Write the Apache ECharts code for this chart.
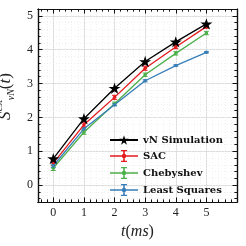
<!DOCTYPE html>
<html><head><meta charset="utf-8">
<script src="https://cdn.jsdelivr.net/npm/echarts@6/dist/echarts.min.js"></script>
<style>html,body{margin:0;padding:0;background:#fff}#c{width:246px;height:246px}</style>
</head><body><div id="c"></div>
<script>
const times = [0, 1, 2, 3, 4, 5];
const vnSim = [0.78, 1.96, 2.86, 3.65, 4.23, 4.76];
const sac = [0.65, 1.78, 2.59, 3.45, 4.08, 4.68];
const sacErr = [0.07, 0.06, 0.06, 0.06, 0.05, 0.05];
const cheb = [0.50, 1.56, 2.40, 3.26, 3.89, 4.49];
const chebErr = [0.07, 0.06, 0.05, 0.05, 0.05, 0.05];
const lsq = [0.57, 1.66, 2.37, 3.08, 3.53, 3.92];
const lsqErr = [0.05, 0.03, 0.03, 0.03, 0.02, 0.02];
const xTicks = [0, 1, 2, 3, 4, 5];
const yTicks = [0, 1, 2, 3, 4, 5];

const C_SAC = '#e41a1c', C_CHEB = '#4daf4a', C_LSQ = '#377eb8';
const STAR = 'path://M50,0L61.23,34.55L97.55,34.55L68.17,55.9L79.39,90.45L50,69.1L20.61,90.45L31.83,55.9L2.45,34.55L38.77,34.55Z';
const ERRICON = 'path://M0,52L280,52L280,68L0,68Z M132,0L148,0L148,120L132,120Z M110,0L170,0L170,12L110,12Z M110,108L170,108L170,120L110,120Z M118,60A22,22 0 1,1 162,60A22,22 0 1,1 118,60Z';

const serif = 'Liberation Serif';
const fmt = v => (xTicks.indexOf(Math.round(v*1000)/1000) >= 0 ? String(Math.round(v)) : '');
const fmtY = v => (yTicks.indexOf(Math.round(v*1000)/1000) >= 0 ? String(Math.round(v)) : '');

// zeroIdx: index of a hidden helper axis (other dimension) whose zero lies on the wanted grid edge
function majorAxis(pos, showLabel, isX, zeroIdx) {
  return {
    type: 'value', position: pos, min: -0.5, max: isX ? 6 : 5.2,
    minInterval: 1, maxInterval: 1,
    axisLine: {show: true, onZero: true, onZeroAxisIndex: zeroIdx, lineStyle: {color: '#111', width: 1.2}},
    axisTick: {show: true, inside: true, length: 4.5, lineStyle: {color: '#111', width: 1}},
    axisLabel: {show: true, formatter: isX ? fmt : fmtY, fontFamily: serif, fontSize: 12,
                color: showLabel ? '#222' : 'rgba(0,0,0,0)', margin: 5},
    splitLine: {show: showLabel, lineStyle: {color: '#dcdcdc', width: 1}},
    minorTick: {show: false}
  };
}
function minorAxis(pos, showSplit, isX, zeroIdx) {
  return {
    type: 'value', position: pos, min: -0.5, max: isX ? 6 : 5.2,
    minInterval: 0.2, maxInterval: 0.2,
    axisLine: {show: true, onZero: true, onZeroAxisIndex: zeroIdx, lineStyle: {color: '#111', width: 1.2}},
    axisTick: {show: true, inside: true, length: 2.6, lineStyle: {color: '#111', width: 1}},
    axisLabel: {show: true, formatter: () => '.', fontSize: 4, color: 'rgba(0,0,0,0)', margin: 2},
    splitLine: {show: showSplit, lineStyle: {color: '#ececec', width: 0.8, type: [1, 2]}}
  };
}
function helperAxis(lo, hi) {
  return {type: 'value', show: false, min: lo, max: hi, axisLine: {onZero: false}, splitLine: {show: false}};
}

function errSeries(name, vals, errs, color) {
  return {
    type: 'custom', name: name, xAxisIndex: 0, yAxisIndex: 0, z: 3,
    data: times.map((t, i) => [t, vals[i], errs[i]]),
    renderItem: function (params, api) {
      const x = api.value(0), y = api.value(1), e = api.value(2);
      const a = api.coord([x, y + e]), b = api.coord([x, y - e]);
      const st = {stroke: color, lineWidth: 1};
      return {type: 'group', children: [
        {type: 'line', shape: {x1: a[0], y1: a[1], x2: b[0], y2: b[1]}, style: st},
        {type: 'line', shape: {x1: a[0]-2.5, y1: a[1], x2: a[0]+2.5, y2: a[1]}, style: st},
        {type: 'line', shape: {x1: b[0]-2.5, y1: b[1], x2: b[0]+2.5, y2: b[1]}, style: st}
      ]};
    }
  };
}
function lineSeries(name, vals, color) {
  return {
    type: 'line', name: name, xAxisIndex: 0, yAxisIndex: 0, z: 3,
    data: times.map((t, i) => [t, vals[i]]),
    color: color, symbol: 'circle', symbolSize: 3.5, showSymbol: true,
    lineStyle: {color: color, width: 1.3}, itemStyle: {color: color, borderWidth: 0},
    emphasis: {disabled: true}
  };
}

const chart = echarts.init(document.getElementById('c'), null, {renderer: 'canvas'});
chart.setOption({
  animation: false,
  backgroundColor: '#fff',
  grid: {left: 38, right: 9, top: 9, bottom: 44, containLabel: false, outerBoundsMode: 'none'},
  xAxis: [
    Object.assign(majorAxis('bottom', true, true, 4), {
      name: '{i|t}{p|(}{i|ms}{p|)}', nameLocation: 'middle', nameGap: 22,
      nameTextStyle: {rich: {i: {fontFamily: serif, fontStyle: 'italic', fontSize: 16, color: '#222'}, p: {fontFamily: serif, fontSize: 16, color: '#222'}}}
    }),
    majorAxis('top', false, true, 5),
    minorAxis('bottom', true, true, 4),
    minorAxis('top', false, true, 5),
    helperAxis(0, 1),
    helperAxis(-1, 0)
  ],
  yAxis: [
    Object.assign(majorAxis('left', true, false, 4), {
      name: '{s|S}{sup|est}{sub|vN}{p|(}{i|t}{p|)}', nameLocation: 'middle', nameGap: 18, nameRotate: 90,
      nameTextStyle: {padding: [0, 0, 0, 18], rich: {
        s: {fontFamily: serif, fontStyle: 'italic', fontSize: 17, color: '#222', lineHeight: 22},
        sup: {fontFamily: serif, fontSize: 10, color: '#222', verticalAlign: 'top', lineHeight: 22},
        sub: {fontFamily: serif, fontStyle: 'italic', fontSize: 10, color: '#222', verticalAlign: 'bottom', lineHeight: 22},
        p: {fontFamily: serif, fontSize: 17, color: '#222', lineHeight: 22},
        i: {fontFamily: serif, fontStyle: 'italic', fontSize: 17, color: '#222', lineHeight: 22}
      }}
    }),
    majorAxis('right', false, false, 5),
    minorAxis('left', true, false, 4),
    minorAxis('right', false, false, 5),
    helperAxis(0, 1),
    helperAxis(-1, 0)
  ],
  legend: {
    orient: 'vertical', left: 104, top: 130, itemWidth: 28, itemHeight: 12, itemGap: 5,
    itemStyle: {borderWidth: 0},
    textStyle: {fontFamily: 'DejaVu Serif', fontWeight: 'bold', fontSize: 10, color: '#111'},
    data: [
      {name: 'vN Simulation'},
      {name: 'SAC', icon: ERRICON},
      {name: 'Chebyshev', icon: ERRICON},
      {name: 'Least Squares', icon: ERRICON}
    ]
  },
  series: [
    lineSeries('SAC', sac, C_SAC),
    errSeries('SAC err', sac, sacErr, C_SAC),
    lineSeries('Chebyshev', cheb, C_CHEB),
    errSeries('Chebyshev err', cheb, chebErr, C_CHEB),
    lineSeries('Least Squares', lsq, C_LSQ),
    errSeries('Least Squares err', lsq, lsqErr, C_LSQ),
    {
      type: 'line', name: 'vN Simulation', xAxisIndex: 0, yAxisIndex: 0, z: 4,
      data: times.map((t, i) => [t, vnSim[i]]),
      color: '#000', symbol: STAR, symbolSize: 12, symbolKeepAspect: true,
      lineStyle: {color: '#000', width: 1.3}, itemStyle: {color: '#000', borderWidth: 0},
      emphasis: {disabled: true}
    }
  ]
});
</script></body></html>
